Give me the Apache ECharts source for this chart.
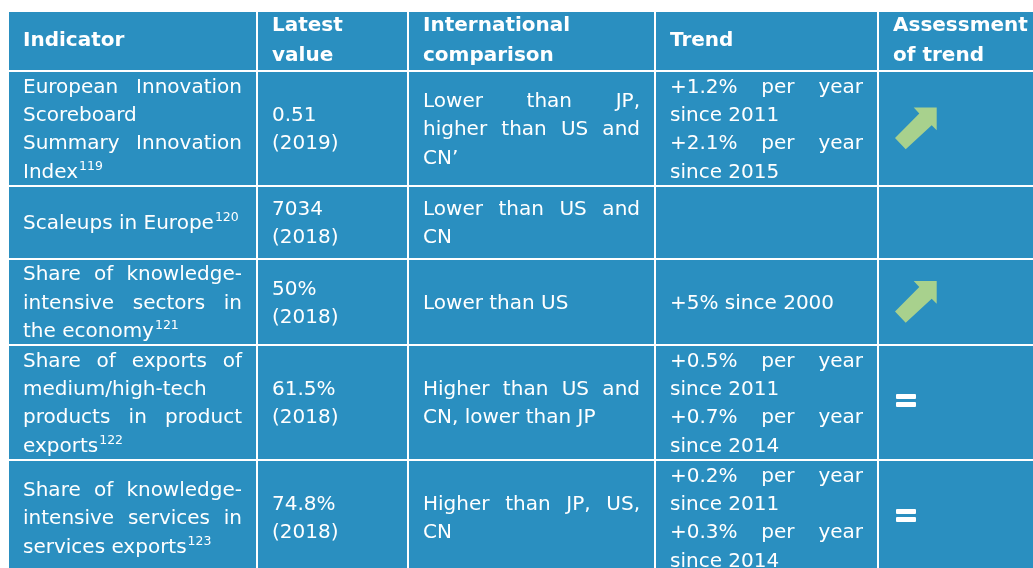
<!DOCTYPE html>
<html lang="en">
<head>
<meta charset="UTF-8">
<title>Indicators table</title>
<script src="https://cdn.jsdelivr.net/npm/echarts@6/dist/echarts.min.js"></script>
<style>
  html, body { margin: 0; padding: 0; background: #fff; }
  #main { width: 1033px; height: 568px; }
</style>
</head>
<body>
<div id="main"></div>
<script>
// table content, row by row
var headers = [['Indicator'], ['Latest', 'value'], ['International', 'comparison'], ['Trend'], ['Assessment', 'of trend']];
var indicators = [
    [['European Innovation', 'Scoreboard', 'Summary Innovation', 'Index^119']],
    [['Scaleups in Europe^120']],
    [['Share of knowledge-', 'intensive sectors in', 'the economy^121']],
    [['Share of exports of', 'medium/high-tech', 'products in product', 'exports^122']],
    [['Share of knowledge-', 'intensive services in', 'services exports^123']]
];
var latestValues = [
    [['0.51', '(2019)']],
    [['7034', '(2018)']],
    [['50%', '(2018)']],
    [['61.5%', '(2018)']],
    [['74.8%', '(2018)']]
];
var comparisons = [
    [['Lower than JP,', 'higher than US and', 'CN\u2019']],
    [['Lower than US and', 'CN']],
    [['Lower than US']],
    [['Higher than US and', 'CN, lower than JP']],
    [['Higher than JP, US,', 'CN']]
];
var trends = [
    [['+1.2% per year', 'since 2011'], ['+2.1% per year', 'since 2015']],
    [],
    [['+5% since 2000']],
    [['+0.5% per year', 'since 2011'], ['+0.7% per year', 'since 2014']],
    [['+0.2% per year', 'since 2011'], ['+0.3% per year', 'since 2014']]
];
var assessments = ['up', '', 'up', '=', '='];

// layout
var colEdges = [8, 257, 408, 655, 878, 1045];
var rowEdges = [11, 71, 186, 259, 345, 460, 575];
var justifyCols = [true, false, true, true, false];
var BLUE = '#2a8fc0';
var GREEN = '#a8d18d';
var FONT = 'DejaVu Sans';
var bodyFont = '20px "' + FONT + '"';
var headFont = 'bold 20px "' + FONT + '"';
var supFont = '12.5px "' + FONT + '"';
var PAD = 15;
var BODY_LH = 28.4;
var HEAD_LH = 30;

var columns = [indicators, latestValues, comparisons, trends];

var measureCtx = document.createElement('canvas').getContext('2d');
function textWidth(t, font) {
    measureCtx.font = font;
    return measureCtx.measureText(t).width;
}

// flatten paragraphs into lines; every line but the last of a paragraph may be justified
function cellLines(paragraphs, justify) {
    var out = [];
    paragraphs.forEach(function (p) {
        p.forEach(function (line, i) {
            out.push({ text: line, justify: justify && i < p.length - 1 && line.indexOf(' ') > 0 });
        });
    });
    return out;
}

function lineElements(line, x0, x1, y, font) {
    var els = [];
    if (line.justify) {
        var words = line.text.split(' ');
        var widths = words.map(function (w) { return textWidth(w, font); });
        var total = widths.reduce(function (a, b) { return a + b; }, 0);
        var gap = (x1 - x0 - total) / (words.length - 1);
        var x = x0;
        words.forEach(function (w, i) {
            els.push({ type: 'text', style: { text: w, x: x, y: y, font: font, fill: '#fff', verticalAlign: 'middle', align: 'left' } });
            x += widths[i] + gap;
        });
    } else {
        var parts = line.text.split('^');
        els.push({ type: 'text', style: { text: parts[0], x: x0, y: y, font: font, fill: '#fff', verticalAlign: 'middle', align: 'left' } });
        if (parts[1]) {
            els.push({ type: 'text', style: { text: parts[1], x: x0 + textWidth(parts[0], font) + 1, y: y - 6, font: supFont, fill: '#fff', verticalAlign: 'middle', align: 'left' } });
        }
    }
    return els;
}

var cells = [];
for (var r = 0; r < rowEdges.length - 1; r++) {
    for (var c = 0; c < colEdges.length - 1; c++) cells.push([c, r]);
}

function renderCell(params, api) {
    var c = api.value(0), r = api.value(1);
    var tl = api.coord([colEdges[c], rowEdges[r]]);
    var br = api.coord([colEdges[c + 1], rowEdges[r + 1]]);
    var children = [{
        type: 'rect',
        shape: { x: tl[0] + 1, y: tl[1] + 1, width: br[0] - tl[0] - 2, height: br[1] - tl[1] - 2 },
        style: { fill: BLUE }
    }];
    var cy = (tl[1] + br[1]) / 2;
    var x0 = tl[0] + PAD, x1 = br[0] - PAD;
    var lines, font, lh, ty = cy;
    if (r === 0) {
        lines = headers[c].map(function (t) { return { text: t, justify: false }; });
        font = headFont; lh = HEAD_LH;
    } else if (c < 4) {
        lines = cellLines(columns[c][r - 1], justifyCols[c]);
        font = bodyFont; lh = BODY_LH;
        ty = cy + 1.5;
    } else {
        lines = [];
        var mark = assessments[r - 1];
        var cx = tl[0] + 38;
        if (mark === 'up') {
            var pts = [[0, 30.4], [24.3, 6], [18.7, 0], [41.7, 0], [41.7, 22.7], [36.7, 17.7], [10.7, 41.7]];
            children.push({
                type: 'polygon',
                shape: { points: pts.map(function (p) { return [cx - 21 + p[0], cy - 21 + p[1]]; }) },
                style: { fill: GREEN }
            });
        } else if (mark === '=') {
            // equals icon: two thick white bars
            children.push({
                type: 'rect',
                shape: { x: cx - 20, y: cy - 8.5, width: 20, height: 5, r: 1 },
                style: { fill: '#fff' }
            }, {
                type: 'rect',
                shape: { x: cx - 20, y: cy - 0.5, width: 20, height: 5, r: 1 },
                style: { fill: '#fff' }
            });
        }
    }
    var y = ty - (lines.length - 1) * lh / 2;
    lines.forEach(function (line, i) {
        children = children.concat(lineElements(line, x0, x1, y + i * lh, font));
    });
    return { type: 'group', children: children };
}

var chart = echarts.init(document.getElementById('main'));
chart.setOption({
    animation: false,
    grid: { left: 0, right: 0, top: 0, bottom: 0 },
    xAxis: { type: 'value', min: 0, max: 1033, show: false },
    yAxis: { type: 'value', min: 0, max: 568, inverse: true, show: false },
    series: [{
        type: 'custom',
        renderItem: renderCell,
        clip: false,
        data: cells
    }]
});
</script>
</body>
</html>
